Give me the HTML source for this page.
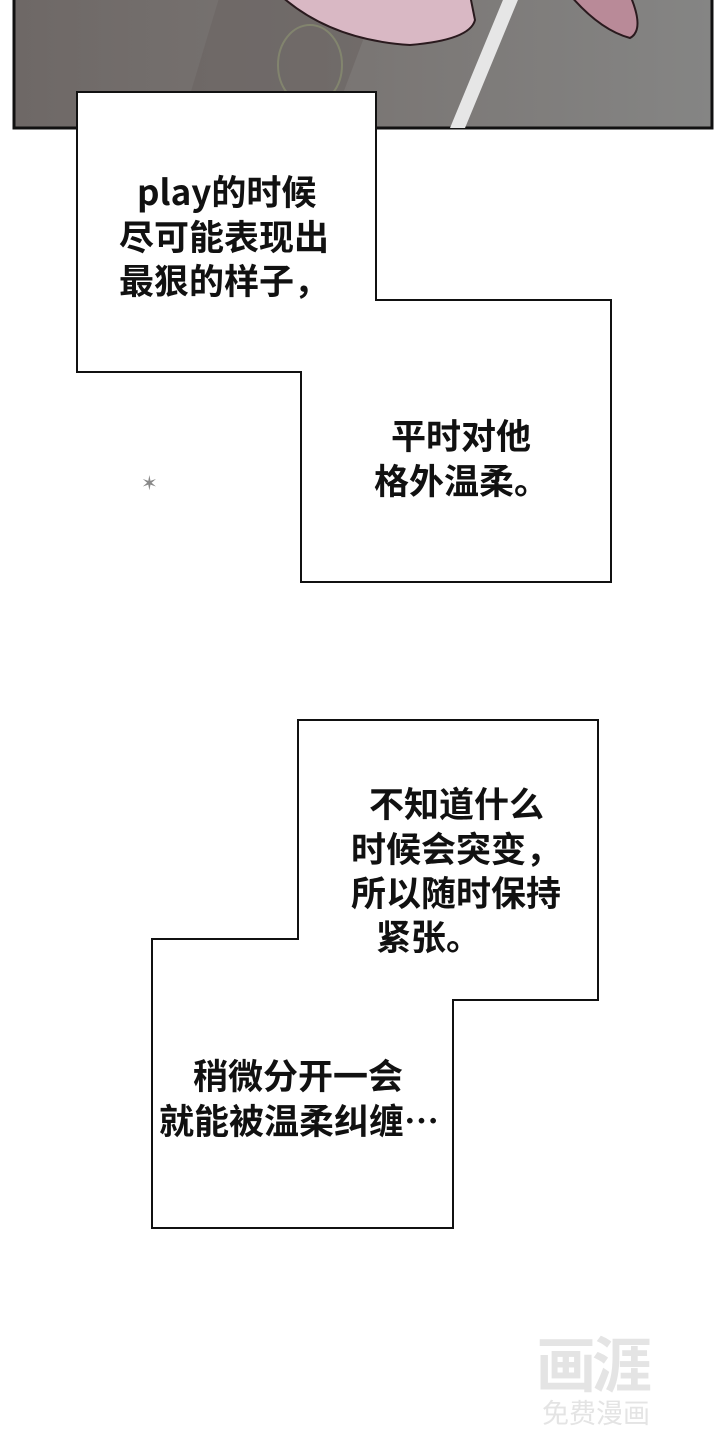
<!DOCTYPE html>
<html><head><meta charset="utf-8"><style>
body{margin:0;width:720px;height:1440px;background:#fff;position:relative;overflow:hidden;font-family:"Liberation Sans","Noto Sans CJK SC",sans-serif}
.t{position:absolute;font-weight:bold;font-size:35px;line-height:44px;color:#111;white-space:nowrap;font-family:"Noto Sans CJK SC",sans-serif}
</style></head><body>
<svg width="720" height="1440" style="position:absolute;left:0;top:0">
<defs><linearGradient id="g" x1="0" x2="1"><stop offset="0" stop-color="#6e6866"/><stop offset="0.5" stop-color="#7a7674"/><stop offset="1" stop-color="#858584"/></linearGradient></defs>
<rect x="14" y="-5" width="698" height="133" fill="url(#g)" stroke="#111" stroke-width="3"/>
<polygon points="220,-5 380,-5 330,128 180,128" fill="#6a6462" opacity="0.6"/>
<path d="M280,-5 Q330,40 410,45 Q470,40 475,20 L470,-5Z" fill="#d9b8c4" stroke="#2a1a1e" stroke-width="2"/>
<path d="M570,-5 Q600,30 630,38 Q645,30 630,-5Z" fill="#b98a98" stroke="#2a1a1e" stroke-width="2"/>
<polygon points="505,-5 520,-5 465,128 450,128" fill="#e6e6e6"/>
<ellipse cx="310" cy="65" rx="32" ry="40" fill="none" stroke="#8a9070" stroke-width="2" opacity="0.7"/>
<polygon points="77,92 376,92 376,300 611,300 611,582 301,582 301,372 77,372" fill="#fff" stroke="#111" stroke-width="2"/>
<polygon points="298,720 598,720 598,1000 453,1000 453,1228 152,1228 152,939 298,939" fill="#fff" stroke="#111" stroke-width="2"/>
<text x="141" y="490" font-size="20" fill="#888">✶</text>
</svg>
<div class="t" style="left:137px;top:169px">play的时候</div>
<div class="t" style="left:119px;top:214px">尽可能表现出</div>
<div class="t" style="left:119px;top:258px">最狠的样子，</div>
<div class="t" style="left:391px;top:413px">平时对他</div>
<div class="t" style="left:374px;top:458px">格外温柔。</div>
<div class="t" style="left:369px;top:781px">不知道什么</div>
<div class="t" style="left:351px;top:826px">时候会突变，</div>
<div class="t" style="left:351px;top:870px">所以随时保持</div>
<div class="t" style="left:376px;top:914px">紧张。</div>
<div class="t" style="left:193px;top:1053px">稍微分开一会</div>
<div class="t" style="left:159px;top:1098px">就能被温柔纠缠…</div>
<div style="position:absolute;left:536px;top:1318px;font-size:60px;font-weight:bold;color:#e4e4e4;font-family:'Noto Sans CJK SC',sans-serif;letter-spacing:-4px">画涯</div>
<div style="position:absolute;left:542px;top:1392px;font-size:27px;color:#e4e4e4;font-family:'Noto Sans CJK SC',sans-serif">免费漫画</div>
</body></html>
